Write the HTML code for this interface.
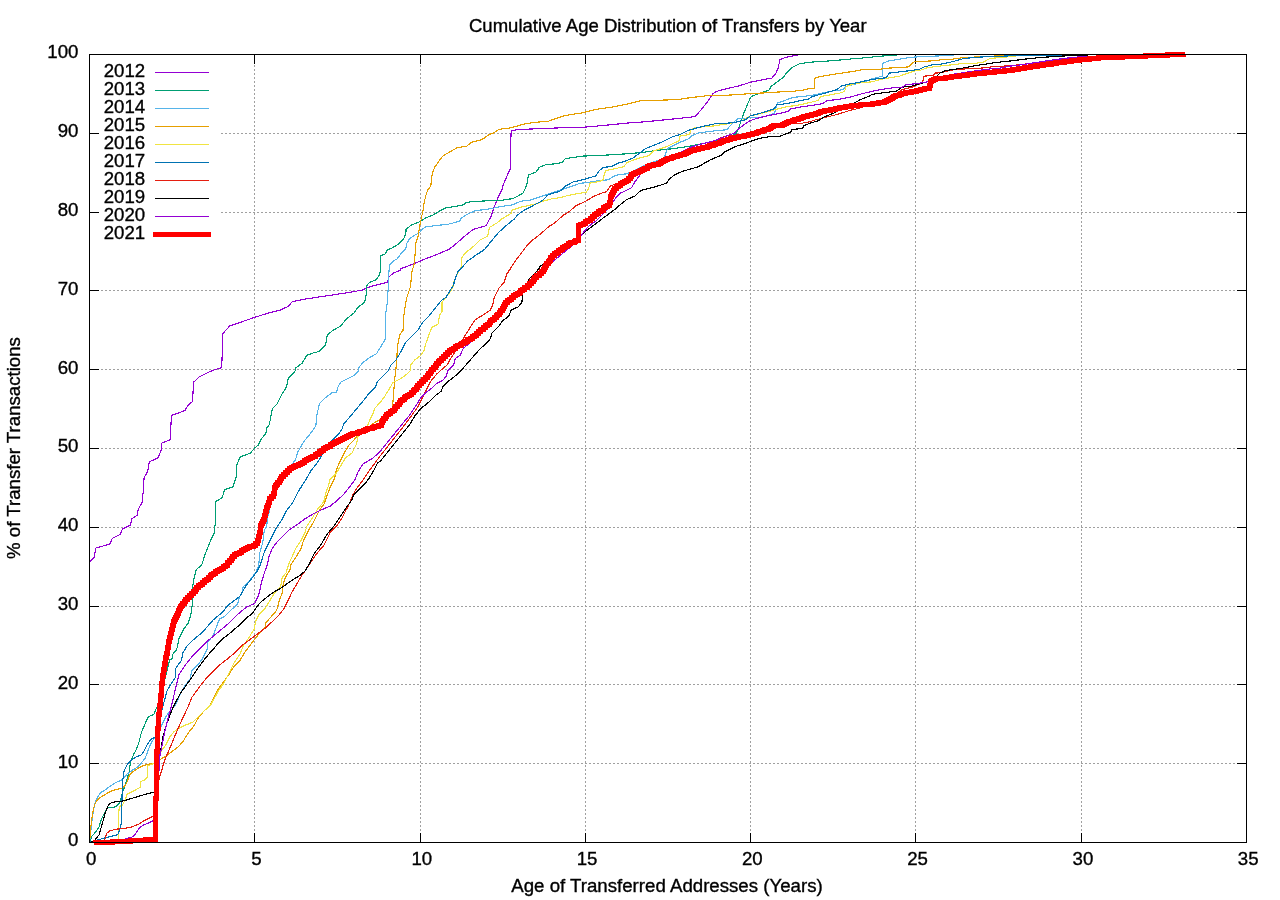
<!DOCTYPE html>
<html><head><meta charset="utf-8"><title>Cumulative Age Distribution of Transfers by Year</title>
<style>html,body{margin:0;padding:0;background:#fff;}svg{display:block;will-change:transform;}text{font-family:"Liberation Sans",sans-serif;font-size:18.67px;fill:#000;stroke:#000;stroke-width:0.35px;}</style></head><body>
<svg width="1280" height="900" viewBox="0 0 1280 900">
<rect x="0" y="0" width="1280" height="900" fill="#fff"/>
<g stroke="#a0a0a0" stroke-width="1" stroke-dasharray="2,2" shape-rendering="crispEdges" fill="none">
<line x1="89.0" y1="763.5" x2="1246.5" y2="763.5"/>
<line x1="89.0" y1="684.5" x2="1246.5" y2="684.5"/>
<line x1="89.0" y1="606.5" x2="1246.5" y2="606.5"/>
<line x1="89.0" y1="527.5" x2="1246.5" y2="527.5"/>
<line x1="89.0" y1="448.5" x2="1246.5" y2="448.5"/>
<line x1="89.0" y1="369.5" x2="1246.5" y2="369.5"/>
<line x1="89.0" y1="290.5" x2="1246.5" y2="290.5"/>
<line x1="89.0" y1="212.5" x2="1246.5" y2="212.5"/>
<line x1="89.0" y1="133.5" x2="1246.5" y2="133.5"/>
<line x1="254.5" y1="843.0" x2="254.5" y2="54.5"/>
<line x1="420.5" y1="843.0" x2="420.5" y2="54.5"/>
<line x1="585.5" y1="843.0" x2="585.5" y2="54.5"/>
<line x1="750.5" y1="843.0" x2="750.5" y2="54.5"/>
<line x1="915.5" y1="843.0" x2="915.5" y2="54.5"/>
<line x1="1081.5" y1="843.0" x2="1081.5" y2="54.5"/>
</g>
<rect x="99" y="60" width="121" height="185" fill="#fff"/>
<g stroke="#000" stroke-width="1" shape-rendering="crispEdges" fill="none">
<line x1="89.5" y1="842.5" x2="99.0" y2="842.5"/>
<line x1="1246.5" y1="842.5" x2="1237.0" y2="842.5"/>
<line x1="89.5" y1="763.5" x2="99.0" y2="763.5"/>
<line x1="1246.5" y1="763.5" x2="1237.0" y2="763.5"/>
<line x1="89.5" y1="684.5" x2="99.0" y2="684.5"/>
<line x1="1246.5" y1="684.5" x2="1237.0" y2="684.5"/>
<line x1="89.5" y1="606.5" x2="99.0" y2="606.5"/>
<line x1="1246.5" y1="606.5" x2="1237.0" y2="606.5"/>
<line x1="89.5" y1="527.5" x2="99.0" y2="527.5"/>
<line x1="1246.5" y1="527.5" x2="1237.0" y2="527.5"/>
<line x1="89.5" y1="448.5" x2="99.0" y2="448.5"/>
<line x1="1246.5" y1="448.5" x2="1237.0" y2="448.5"/>
<line x1="89.5" y1="369.5" x2="99.0" y2="369.5"/>
<line x1="1246.5" y1="369.5" x2="1237.0" y2="369.5"/>
<line x1="89.5" y1="290.5" x2="99.0" y2="290.5"/>
<line x1="1246.5" y1="290.5" x2="1237.0" y2="290.5"/>
<line x1="89.5" y1="212.5" x2="99.0" y2="212.5"/>
<line x1="1246.5" y1="212.5" x2="1237.0" y2="212.5"/>
<line x1="89.5" y1="133.5" x2="99.0" y2="133.5"/>
<line x1="1246.5" y1="133.5" x2="1237.0" y2="133.5"/>
<line x1="89.5" y1="54.5" x2="99.0" y2="54.5"/>
<line x1="1246.5" y1="54.5" x2="1237.0" y2="54.5"/>
<line x1="89.5" y1="842.5" x2="89.5" y2="833.0"/>
<line x1="89.5" y1="54.5" x2="89.5" y2="64.0"/>
<line x1="254.5" y1="842.5" x2="254.5" y2="833.0"/>
<line x1="254.5" y1="54.5" x2="254.5" y2="64.0"/>
<line x1="420.5" y1="842.5" x2="420.5" y2="833.0"/>
<line x1="420.5" y1="54.5" x2="420.5" y2="64.0"/>
<line x1="585.5" y1="842.5" x2="585.5" y2="833.0"/>
<line x1="585.5" y1="54.5" x2="585.5" y2="64.0"/>
<line x1="750.5" y1="842.5" x2="750.5" y2="833.0"/>
<line x1="750.5" y1="54.5" x2="750.5" y2="64.0"/>
<line x1="915.5" y1="842.5" x2="915.5" y2="833.0"/>
<line x1="915.5" y1="54.5" x2="915.5" y2="64.0"/>
<line x1="1081.5" y1="842.5" x2="1081.5" y2="833.0"/>
<line x1="1081.5" y1="54.5" x2="1081.5" y2="64.0"/>
<line x1="1246.5" y1="842.5" x2="1246.5" y2="833.0"/>
<line x1="1246.5" y1="54.5" x2="1246.5" y2="64.0"/>
</g>
<g fill="none" stroke-width="1.15" shape-rendering="crispEdges" stroke-linejoin="round">
<polyline stroke="#9400D3" points="90.0,561.6 94.4,557.2 95.6,548.1 102.2,546.2 110.0,543.9 112.3,538.4 120.2,534.5 122.5,529.1 130.3,525.2 131.9,518.9 137.3,515.0 138.1,509.5 142.0,502.5 143.1,493.1 144.1,477.5 147.5,472.0 149.4,461.9 158.4,457.5 161.6,448.6 161.6,443.1 169.4,440.0 170.2,439.5 171.4,415.3 178.8,413.0 185.0,410.3 188.1,405.2 192.5,401.6 193.6,382.2 199.1,377.0 208.4,372.3 216.2,369.2 221.7,367.7 222.5,345.0 222.7,333.8 229.7,325.9 239.1,322.8 254.7,317.3 267.2,313.4 279.7,310.3 288.3,306.4 292.2,301.7 303.1,299.4 318.8,297.0 334.4,294.7 350.0,292.3 362.5,290.0 367.2,287.7 375.0,285.3 387.5,282.2 389.1,276.7 393.8,272.8 400.0,270.5 400.3,268.9 412.8,264.2 423.8,259.5 436.2,254.8 448.8,249.4 455.0,244.7 462.8,237.7 470.6,231.4 473.8,229.1 480.0,227.5 486.2,225.6 490.9,216.6 494.1,207.2 497.2,199.4 501.9,190.0 503.4,184.4 508.1,173.4 510.5,168.8 510.5,148.4 511.2,130.5 520.6,129.4 540.9,128.6 561.2,127.8 580.0,127.5 595.6,126.2 611.2,124.7 626.9,123.1 642.5,122.0 658.1,120.5 673.8,118.9 689.4,117.3 695.6,116.2 701.9,108.8 708.1,100.9 712.8,93.9 715.9,91.6 721.4,90.0 740.0,85.6 749.4,82.5 760.3,80.2 772.0,78.1 775.9,73.1 778.3,67.7 779.8,59.8 785.3,57.5 793.1,55.9 799.4,54.7"/>
<polyline stroke="#009E73" points="89.7,841.7 92.0,836.2 95.9,831.6 99.1,826.9 101.4,819.1 103.8,814.4 106.9,808.1 110.0,807.3 113.1,807.3 116.2,806.6 120.2,801.9 122.5,792.5 124.8,786.2 127.2,778.4 129.5,770.6 130.3,762.8 133.4,755.0 136.6,748.8 138.9,742.5 141.2,733.1 144.4,725.3 148.3,716.7 153.8,714.4 156.1,708.9 158.4,705.0 169.7,659.5 172.0,658.8 172.8,654.1 176.7,649.4 179.1,638.4 183.8,629.1 188.4,622.8 190.8,615.0 192.3,604.1 192.3,588.4 193.9,579.1 196.2,569.7 201.7,565.0 205.0,554.7 208.1,546.9 211.2,539.1 214.4,532.8 215.2,523.4 215.6,501.6 222.2,497.7 224.5,489.8 233.1,486.7 236.2,476.6 237.0,464.1 240.2,457.0 250.3,453.1 255.0,447.7 258.1,445.3 261.2,439.1 265.9,433.6 266.7,428.1 269.1,425.0 269.4,424.1 272.5,408.4 277.2,403.8 281.9,394.4 286.6,386.6 288.1,378.8 295.2,370.9 295.9,367.8 302.2,363.1 306.9,355.3 313.1,353.0 319.4,351.4 324.8,345.9 326.4,341.2 327.2,335.0 331.9,331.1 341.2,325.6 345.9,319.4 353.8,313.1 358.4,306.9 364.7,302.2 366.2,294.4 367.0,285.0 369.8,282.2 376.1,279.8 379.2,275.2 380.8,269.7 380.8,255.6 385.5,253.8 387.0,250.2 392.5,247.8 398.8,243.9 403.4,239.2 405.8,233.8 406.1,229.1 411.2,225.2 419.8,221.7 425.3,218.1 433.1,215.0 439.4,211.1 445.6,208.0 455.0,206.4 463.6,204.8 465.9,202.5 473.8,201.4 486.2,200.9 501.9,200.2 512.8,198.6 517.5,196.2 523.0,193.1 524.5,190.0 526.9,184.4 528.4,175.0 536.2,171.9 539.4,167.2 545.6,164.8 555.0,163.8 562.0,162.5 565.2,158.6 573.8,157.5 580.0,156.2 595.6,155.6 611.2,154.8 626.9,153.8 642.5,152.5 658.1,150.2 673.8,148.6 689.4,146.2 705.0,143.1 720.6,139.2 730.0,136.9 736.2,133.8 739.4,125.9 742.5,116.6 745.6,108.8 750.3,97.8 751.9,96.2 759.7,93.1 767.5,90.8 769.1,90.0 771.2,86.4 777.5,81.7 783.8,77.0 786.9,72.3 790.8,68.4 794.7,66.1 799.4,63.8 810.3,62.2 833.8,60.6 849.4,59.1 865.0,57.8 880.6,56.2 888.4,55.6 899.4,54.7"/>
<polyline stroke="#56B4E9" points="89.7,841.7 91.2,826.9 92.8,814.4 94.4,805.0 96.7,798.8 100.6,792.5 103.8,790.9 106.9,788.6 112.3,784.7 116.2,782.3 121.7,780.0 124.8,776.9 127.2,773.8 131.9,770.6 136.6,767.5 139.7,765.2 145.2,758.1 147.5,751.9 150.6,744.1 153.8,738.6 156.1,736.2 161.6,725.3 166.2,715.9 170.2,711.2 175.6,705.0 180.6,693.1 185.3,685.3 190.0,679.1 191.6,671.2 197.8,665.0 202.5,658.8 207.2,649.4 208.0,641.6 213.4,635.3 217.3,624.4 219.7,618.9 224.4,616.6 230.6,610.3 237.7,604.1 239.2,597.8 242.3,591.6 243.1,586.9 249.4,580.6 255.6,572.8 258.8,565.0 259.7,553.1 262.8,542.2 264.4,529.7 266.7,526.6 267.5,517.2 269.1,512.5 271.4,500.0 274.1,493.8 275.6,485.9 281.6,476.6 289.4,468.8 291.7,464.8 295.6,459.4 298.0,451.6 303.4,442.2 309.7,434.4 314.4,428.1 315.9,425.0 317.0,414.7 319.4,403.8 325.6,397.5 331.9,392.8 336.6,392.0 338.1,386.6 341.2,381.9 347.5,378.8 353.8,375.6 358.4,370.9 359.2,367.0 363.1,362.3 369.4,357.7 376.4,353.8 380.3,347.5 384.2,341.2 385.8,338.1 385.8,313.1 387.3,302.2 388.4,285.0 388.6,277.5 389.4,265.0 393.3,261.1 397.2,258.8 401.9,252.5 405.8,248.6 406.6,243.9 409.7,238.4 414.4,235.3 419.1,233.0 422.2,229.1 426.1,226.7 436.2,225.6 448.8,224.1 459.7,221.2 461.2,218.1 467.5,214.2 475.3,210.6 486.2,209.5 494.1,208.0 501.9,206.4 512.8,204.8 517.5,202.5 523.8,200.6 530.0,200.2 580.0,183.4 589.4,182.2 598.8,180.6 608.1,179.8 612.8,176.7 619.1,174.4 626.9,173.9 647.2,164.2 653.4,161.9 661.2,159.5 664.4,157.2 667.5,148.6 673.8,145.5 680.0,142.3 687.8,139.2 692.5,135.3 698.8,133.0 709.7,131.4 720.6,130.3 726.9,129.8 730.0,125.9 734.7,121.2 737.8,118.9 744.1,118.6 750.3,117.3 759.7,117.3 767.5,115.8 774.5,113.4 776.1,107.2 777.7,102.5 780.0,102.2 786.9,99.7 793.1,97.3 802.5,96.6 813.4,95.0 824.4,92.7 832.2,91.1 838.4,90.3 843.1,89.5 846.2,86.4 855.6,84.1 865.0,81.7 872.8,78.6 882.2,76.2 883.0,63.0 890.0,60.6 896.2,59.8 904.1,58.3 911.9,57.2 927.5,56.4 940.0,55.9 940.6,55.3 962.5,54.7"/>
<polyline stroke="#E69F00" points="89.7,840.9 90.5,830.0 92.0,817.5 93.6,808.1 95.2,803.4 98.3,798.8 102.2,796.4 106.9,793.3 111.6,790.9 116.2,789.4 120.9,788.6 124.8,786.2 127.2,781.6 129.5,775.3 133.4,771.4 138.1,768.3 142.8,765.9 147.5,764.4 153.8,763.1 160.0,759.7 166.2,755.8 172.5,751.1 178.8,746.4 183.4,740.9 188.1,733.1 194.4,725.3 197.5,719.1 203.8,711.2 210.0,705.0 216.6,691.6 224.4,680.6 229.1,674.4 233.8,666.6 240.0,660.3 244.7,652.5 249.4,646.2 254.1,640.0 260.3,632.2 265.0,627.5 265.8,622.8 271.2,616.6 276.7,610.3 279.1,600.9 282.2,593.1 283.0,585.3 285.3,577.5 290.0,569.7 290.8,565.0 295.6,557.8 301.1,548.4 303.4,540.6 308.1,531.2 312.8,523.4 315.9,517.2 319.1,510.9 324.5,503.1 327.7,493.8 330.0,487.5 334.7,478.1 336.2,470.3 339.4,462.5 344.1,453.1 348.8,445.3 353.4,440.6 358.1,435.2 361.2,432.8 374.8,422.5 385.0,416.6 392.5,410.0 392.8,403.8 393.6,394.4 394.4,381.9 395.9,369.4 396.7,360.0 397.5,345.9 399.8,335.0 403.0,330.3 403.8,316.2 405.3,305.3 406.9,297.5 410.0,288.1 410.8,285.0 411.2,277.5 412.0,271.2 414.4,263.4 415.2,252.5 415.9,243.1 418.3,235.3 419.8,225.9 421.4,218.1 423.0,210.3 424.5,200.9 426.1,194.7 427.7,190.0 430.8,185.9 432.3,173.4 434.7,167.2 438.6,161.7 442.5,156.2 450.3,151.6 457.3,147.7 466.7,146.1 471.4,142.2 481.6,139.8 486.2,136.7 489.4,134.4 494.1,132.8 498.8,129.4 511.2,127.8 520.6,125.0 526.9,123.4 536.2,122.3 548.8,121.1 555.0,118.8 564.4,115.6 573.8,114.1 580.0,113.3 595.6,109.5 611.2,107.2 626.9,104.1 640.9,100.6 658.1,100.2 676.9,99.7 689.4,97.8 705.0,95.9 720.6,95.5 736.2,94.7 751.9,93.4 767.5,92.8 780.0,91.9 786.9,91.9 802.5,90.3 810.3,88.4 814.5,88.0 815.0,77.8 825.9,75.5 841.6,73.1 857.2,70.8 863.4,69.2 880.6,69.2 883.8,68.4 896.2,67.7 908.8,66.9 911.9,63.8 915.0,61.1 927.5,61.1 938.4,60.6 940.0,59.8 953.1,59.1 962.5,57.7 978.1,56.9 987.5,56.4 998.4,55.9 1009.4,55.6 1032.8,55.0"/>
<polyline stroke="#F0E442" points="89.7,842.2 117.8,840.9 118.3,838.6 118.6,814.4 119.4,806.6 122.5,805.0 125.6,798.8 127.2,794.1 131.9,791.7 136.6,789.4 140.5,787.0 140.9,781.6 144.4,780.0 147.5,776.9 147.8,765.9 153.8,763.6 160.8,751.9 166.2,744.1 170.2,736.2 174.1,731.6 178.8,728.4 185.0,725.3 192.8,722.2 197.5,717.5 203.8,711.2 210.0,705.8 211.1,704.1 218.1,691.6 224.4,682.2 229.1,672.8 233.8,663.4 240.0,654.1 243.1,646.2 249.4,636.9 254.1,629.1 255.6,621.2 258.8,615.0 265.0,608.8 269.7,600.9 274.4,593.1 280.6,586.9 282.2,577.5 286.1,572.8 288.4,565.0 288.6,564.1 291.7,557.8 295.6,548.4 301.1,540.6 305.0,532.8 306.6,526.6 312.8,517.2 317.5,509.4 323.8,501.6 326.1,492.2 328.4,485.9 330.0,479.7 336.2,473.4 340.9,465.6 345.6,457.8 351.9,453.1 356.6,443.8 358.1,435.9 362.8,432.8 365.2,431.2 369.4,420.9 372.5,414.7 374.8,408.4 380.3,402.2 385.0,395.9 389.7,388.1 392.8,382.7 400.6,378.8 406.9,374.1 410.8,370.2 410.8,364.7 414.7,360.0 420.9,355.3 424.1,350.6 425.6,344.4 428.8,335.0 431.9,327.2 438.1,324.1 439.7,314.7 442.0,311.6 442.0,302.2 445.9,297.5 450.6,291.2 453.0,286.6 453.4,282.2 457.3,274.4 461.2,266.6 462.0,257.2 465.9,252.5 473.8,246.2 480.0,240.0 487.8,236.1 489.4,227.5 497.2,222.8 501.9,218.9 511.2,213.4 512.0,210.3 520.6,207.2 530.0,205.2 536.2,203.9 544.1,200.8 551.9,198.8 559.7,197.7 567.5,195.6 575.3,194.1 580.0,193.3 586.2,192.3 588.6,188.4 590.2,183.0 595.6,182.2 602.7,180.6 604.2,174.4 605.8,170.5 614.4,168.9 623.8,166.6 626.9,162.7 634.7,159.5 642.5,157.2 648.8,155.6 653.4,150.9 661.2,148.6 667.5,146.2 673.8,143.1 679.2,140.8 680.0,136.1 689.4,134.5 690.9,129.8 695.6,127.5 705.0,126.7 714.4,125.9 723.8,124.4 733.1,122.8 742.5,120.5 750.3,115.8 758.1,114.2 767.5,111.9 775.3,109.5 780.0,108.4 786.9,106.7 797.8,105.2 808.8,102.8 818.1,100.5 820.5,96.6 833.8,94.2 841.6,92.7 844.7,91.1 846.2,86.4 855.6,83.3 865.0,82.5 872.8,81.7 880.6,79.4 890.0,77.8 899.4,76.2 905.6,73.9 915.0,70.8 921.2,70.0 927.5,67.7 935.3,66.6 940.0,66.1 950.0,65.0 964.1,63.4 975.0,63.4 984.4,61.9 987.5,59.5 990.6,58.4 1000.0,57.5 1007.8,56.9 1018.8,55.6 1040.6,54.8"/>
<polyline stroke="#0072B2" points="89.7,842.2 94.4,840.9 105.3,837.8 111.6,836.2 117.8,834.7 119.7,830.0 121.2,823.8 121.7,806.6 122.5,783.1 123.8,772.2 125.6,767.5 128.0,763.6 131.9,759.7 136.6,756.6 141.2,755.0 144.4,750.3 147.5,744.1 150.6,739.4 155.3,737.0 163.4,704.1 167.3,690.0 171.2,683.8 175.2,677.5 175.9,668.1 181.4,660.3 183.0,652.5 186.9,646.2 193.1,640.0 202.5,632.2 213.4,619.7 222.8,611.9 227.5,605.6 233.8,600.9 240.0,596.2 246.2,585.3 252.5,577.5 257.2,571.2 260.3,565.0 264.4,551.6 269.1,542.2 275.3,529.7 281.6,520.3 286.2,510.9 292.5,503.1 298.8,490.6 305.0,481.2 311.2,470.3 317.5,462.5 322.2,454.7 325.3,448.4 334.7,437.5 339.4,432.8 342.5,428.1 343.3,425.0 343.6,424.1 349.1,417.8 356.9,408.4 364.7,399.1 369.4,392.8 375.6,386.6 377.2,381.9 383.4,375.6 388.1,370.9 391.2,364.7 395.9,360.0 400.6,352.2 405.3,342.8 411.6,336.6 417.8,330.3 422.5,322.5 428.8,316.2 435.0,308.4 441.2,300.6 445.9,297.5 450.6,289.7 453.8,285.0 454.2,281.4 458.1,271.2 462.8,266.6 467.5,261.1 475.3,255.6 484.7,249.4 490.9,241.6 498.8,232.2 506.6,225.2 514.4,218.9 517.5,215.0 523.8,210.3 530.0,207.2 536.2,203.9 540.9,201.6 544.8,198.4 547.2,195.3 553.4,193.0 559.7,191.4 565.9,185.9 573.8,181.6 580.0,180.5 587.8,178.3 595.6,175.9 598.8,171.2 603.4,167.3 611.2,166.6 617.5,163.4 625.3,161.1 633.1,158.0 639.4,153.3 645.6,148.6 653.4,145.5 662.8,141.6 672.2,136.9 680.0,134.5 687.8,130.6 695.6,128.3 705.0,125.9 715.9,123.6 726.9,123.3 736.2,122.0 745.6,119.7 750.3,115.8 759.7,113.4 767.5,111.1 773.8,108.8 776.9,104.8 780.0,104.5 786.9,103.6 797.8,101.2 808.8,98.9 811.9,96.6 821.2,94.2 829.1,91.9 836.9,89.5 841.6,85.9 849.4,84.1 858.8,82.5 868.1,80.2 877.5,78.6 886.1,77.8 889.2,73.1 896.2,72.3 908.8,70.8 919.7,69.2 924.4,66.9 933.8,64.5 940.0,64.2 946.9,63.0 954.7,61.1 964.1,58.4 978.1,57.2 993.8,56.4 1009.4,55.9 1025.0,55.6 1068.8,55.0"/>
<polyline stroke="#E51E10" points="94.4,842.2 104.5,840.9 105.3,837.8 106.9,833.1 110.0,830.8 116.2,829.2 124.1,828.4 131.9,826.9 138.1,824.5 142.8,821.4 147.5,819.1 153.0,816.2 156.1,814.4 157.2,792.5 159.2,778.4 161.6,770.6 163.9,762.8 166.2,756.6 170.2,747.2 174.1,737.8 178.8,726.9 183.4,716.7 188.9,705.0 189.2,704.1 191.6,697.8 199.4,686.9 205.6,679.1 213.4,671.2 219.7,665.0 227.5,658.8 235.3,652.5 243.1,644.7 249.4,640.0 255.6,635.3 265.0,628.3 272.8,621.2 279.1,615.0 283.8,608.8 287.7,600.9 292.3,591.6 297.8,582.2 302.5,574.4 308.0,566.6 309.7,564.1 315.9,554.7 323.8,545.3 330.0,532.8 336.2,526.6 342.5,517.2 348.8,504.7 353.4,493.8 357.3,487.5 364.4,478.1 370.6,468.8 375.3,462.5 380.0,456.2 405.3,424.1 410.0,417.8 417.8,406.9 422.5,397.5 425.6,391.2 430.3,381.9 436.6,374.1 442.8,368.6 447.5,364.7 449.8,360.0 469.1,329.1 475.3,319.7 483.1,315.0 490.2,310.3 492.5,305.6 494.1,297.8 498.8,288.4 504.2,282.2 506.6,274.4 512.8,265.0 515.2,261.1 520.6,254.1 525.3,247.8 530.0,242.3 533.9,239.1 540.9,233.6 548.8,226.6 555.0,222.7 562.8,215.6 569.1,211.7 575.3,206.2 580.0,203.9 586.2,200.9 594.1,196.2 601.9,193.1 606.6,191.6 610.5,186.1 615.9,183.8 626.9,179.8 642.5,168.9 658.1,162.7 680.0,154.1 705.0,145.9 720.6,137.7 728.4,135.3 742.5,135.3 755.0,132.2 780.0,124.7 791.6,123.1 802.5,123.1 810.3,121.6 815.0,120.0 827.5,116.9 836.9,114.5 849.4,110.6 858.8,108.3 874.4,103.6 890.0,97.3 902.5,89.5 911.9,87.2 922.8,82.5 923.6,76.2 933.8,75.5 934.5,73.1 940.0,72.8 946.9,71.2 954.7,69.7 965.6,68.9 981.2,68.1 993.8,66.6 1009.4,65.8 1034.4,63.1 1064.1,59.1 1087.5,56.7"/>
<polyline stroke="#000000" points="90.5,842.2 94.4,840.9 99.1,834.7 102.2,823.8 105.3,812.8 108.4,805.0 111.6,802.7 116.2,801.6 122.5,801.1 131.9,798.4 139.7,795.9 147.5,793.8 153.8,792.2 157.2,791.7 158.4,767.5 160.8,750.3 163.1,736.2 166.2,725.3 170.2,714.4 174.1,705.0 180.6,693.1 188.4,682.2 194.7,672.8 202.5,661.9 208.8,654.1 215.8,646.2 221.2,640.0 229.1,633.8 238.4,625.9 246.2,618.1 252.5,613.4 256.4,607.2 260.3,602.5 268.1,596.2 274.4,591.6 280.6,588.4 286.9,583.8 293.9,579.1 299.4,575.9 304.8,571.2 308.8,565.0 314.4,553.1 320.6,545.3 326.9,534.4 334.7,525.0 340.9,515.6 347.2,506.2 351.9,500.0 353.4,495.3 358.1,490.6 364.4,484.4 369.1,478.1 373.8,470.3 377.7,462.5 380.0,461.7 410.0,424.1 414.7,416.2 420.9,408.4 428.8,402.2 435.0,395.9 441.2,391.2 442.8,386.6 447.5,381.9 453.8,377.2 460.0,371.7 479.8,349.1 486.9,342.8 490.8,338.1 491.6,333.4 499.4,325.6 502.5,320.9 508.8,316.2 511.1,310.0 518.1,306.9 522.0,302.2 522.3,294.4 529.1,278.8 533.8,274.1 539.2,268.6 540.0,266.2 549.4,260.0 565.0,249.1 581.4,235.0 586.9,230.3 593.1,225.6 599.4,220.9 605.6,216.2 611.9,211.6 614.2,210.0 619.1,205.6 626.9,199.4 634.7,196.2 639.4,191.6 642.5,190.0 651.9,187.7 662.8,184.5 666.7,183.0 669.1,179.1 675.3,174.4 683.1,171.2 690.9,168.9 698.8,166.6 705.0,162.7 711.2,159.5 720.6,155.6 723.8,152.5 730.0,149.4 736.2,146.2 744.1,143.9 751.9,140.8 759.7,138.4 770.6,136.4 780.0,136.1 790.8,132.2 791.6,129.4 802.5,128.6 804.1,125.5 810.3,123.1 818.1,120.8 824.4,116.9 832.2,113.8 833.8,113.0 854.8,102.8 860.3,99.7 868.1,96.6 872.8,94.2 880.6,93.1 888.4,92.2 896.2,91.1 900.9,88.0 905.6,86.1 911.9,86.1 918.1,84.1 927.5,81.7 936.9,76.2 940.0,73.1 945.3,70.5 951.6,69.7 962.5,68.1 975.0,65.8 987.5,63.8 993.8,62.7 1009.4,61.1 1025.0,59.1 1040.6,57.5 1056.2,56.4 1071.9,55.6 1087.5,55.0"/>
<polyline stroke="#9400D3" points="94.4,842.2 117.8,840.9 124.1,839.4 131.9,837.0 135.0,834.7 138.9,828.4 142.8,825.3 147.5,823.4 153.0,820.9 156.9,819.8 158.1,783.1 160.0,755.0 162.3,744.1 164.7,731.6 167.8,719.1 170.9,708.1 171.7,705.0 175.2,690.0 179.1,674.4 185.3,665.0 191.6,657.2 199.4,649.4 208.8,640.0 218.1,632.2 227.5,624.4 236.9,615.0 246.2,607.2 254.8,603.3 258.8,594.7 261.9,580.6 265.0,571.2 267.3,565.0 269.1,556.2 272.2,548.4 276.9,542.2 283.1,535.9 289.4,529.7 298.8,523.4 305.0,518.8 312.8,514.1 320.6,510.2 330.0,506.2 337.8,500.0 344.1,493.8 350.3,485.9 355.0,479.7 358.1,471.9 362.8,464.1 372.2,458.6 378.4,453.1 380.0,451.6 402.2,424.1 410.0,414.7 416.2,405.3 420.9,397.5 425.6,392.8 431.9,388.1 436.6,383.4 442.8,380.3 446.7,375.6 447.5,370.9 453.8,364.7 455.3,358.4 460.0,355.3 463.4,348.3 479.1,335.0 494.7,320.9 508.8,303.8 524.4,285.8 540.0,272.5 555.6,259.2 565.0,251.4 575.9,242.8 583.8,231.9 588.4,226.4 596.2,220.9 602.5,214.7 606.4,210.0 611.2,204.1 615.9,197.8 620.6,193.1 631.6,187.7 634.7,182.2 639.4,175.9 642.5,172.0 658.1,162.7 676.9,154.1 689.4,147.8 698.8,144.7 711.2,141.6 720.6,138.4 728.4,135.3 734.7,133.0 736.2,130.6 742.5,125.9 750.3,120.5 758.1,118.1 767.5,115.8 775.3,114.2 780.0,113.4 788.4,111.4 790.0,109.1 802.5,106.7 813.4,105.2 822.8,103.6 827.5,100.5 836.9,99.7 849.4,97.3 860.3,94.2 872.8,91.1 880.6,89.5 891.6,88.0 902.5,87.2 905.6,84.8 915.0,83.8 924.4,82.5 927.5,81.7 940.0,78.6 951.6,74.4 978.1,70.5 990.6,68.9 1000.0,68.1 1009.4,66.2 1021.9,64.7 1034.4,62.7 1040.6,61.9 1050.0,60.3 1071.9,57.5 1087.5,56.2"/>
</g>
<polyline fill="none" stroke="#FF0000" stroke-width="5" stroke-linejoin="miter" stroke-linecap="butt" shape-rendering="crispEdges" points="93.9,842.8 95.9,842.8 95.9,842.7 97.9,842.7 97.9,842.6 99.9,842.6 99.9,842.5 101.9,842.5 101.9,842.4 104.0,842.4 104.0,842.3 106.0,842.3 106.0,842.2 108.0,842.2 108.0,842.1 110.0,842.1 110.0,842.0 112.0,842.0 112.0,841.9 114.0,841.9 114.0,841.8 116.0,841.8 116.0,841.7 118.0,841.7 118.0,841.6 120.0,841.6 120.0,841.5 122.1,841.5 122.1,841.4 124.1,841.4 124.1,841.2 126.0,841.2 126.0,841.1 128.0,841.1 128.0,841.0 130.0,841.0 130.0,840.9 132.0,840.9 132.0,840.8 134.0,840.8 134.0,840.6 135.9,840.6 135.9,840.5 137.9,840.5 137.9,840.4 139.9,840.4 139.9,840.2 141.9,840.2 141.9,840.1 143.9,840.1 143.9,840.0 145.8,840.0 145.8,839.9 147.8,839.9 147.8,839.8 149.8,839.8 149.8,839.6 151.8,839.6 151.8,839.5 153.8,839.5 153.8,839.4 155.6,839.4 155.6,839.1 155.6,839.1 155.6,837.0 155.7,837.0 155.7,834.9 155.7,834.9 155.7,832.9 155.7,832.9 155.7,830.8 155.7,830.8 155.7,828.8 155.7,828.8 155.7,826.7 155.7,826.7 155.7,824.7 155.7,824.7 155.7,822.6 155.7,822.6 155.7,820.5 155.8,820.5 155.8,818.5 155.8,818.5 155.8,816.4 155.8,816.4 155.8,814.4 155.8,814.4 155.8,812.4 155.8,812.4 155.8,810.5 155.8,810.5 155.8,808.5 155.9,808.5 155.9,806.6 155.9,806.6 155.9,804.6 155.9,804.6 155.9,802.7 155.9,802.7 155.9,800.7 155.9,800.7 155.9,798.8 156.0,798.8 156.0,796.8 156.0,796.8 156.0,794.8 156.0,794.8 156.0,792.9 156.0,792.9 156.0,790.9 156.0,790.9 156.0,789.0 156.1,789.0 156.1,787.0 156.1,787.0 156.1,785.1 156.1,785.1 156.1,783.1 156.1,783.1 156.1,781.2 156.2,781.2 156.2,779.2 156.2,779.2 156.2,777.3 156.3,777.3 156.3,775.3 156.3,775.3 156.3,773.4 156.4,773.4 156.4,771.4 156.4,771.4 156.4,769.5 156.5,769.5 156.5,767.5 156.5,767.5 156.5,765.5 156.6,765.5 156.6,763.6 156.6,763.6 156.6,761.6 156.7,761.6 156.7,759.7 156.7,759.7 156.7,757.7 156.8,757.7 156.8,755.8 156.8,755.8 156.8,753.8 156.9,753.8 156.9,751.9 157.0,751.9 157.0,749.9 157.0,749.9 157.0,748.0 157.1,748.0 157.1,746.0 157.2,746.0 157.2,744.1 157.3,744.1 157.3,742.1 157.3,742.1 157.3,740.2 157.4,740.2 157.4,738.2 157.5,738.2 157.5,736.2 157.6,736.2 157.6,734.3 157.7,734.3 157.7,732.3 157.7,732.3 157.7,730.4 157.8,730.4 157.8,728.4 158.0,728.4 158.0,726.5 158.1,726.5 158.1,724.5 158.3,724.5 158.3,722.6 158.4,722.6 158.4,720.6 158.6,720.6 158.6,718.7 158.8,718.7 158.8,716.7 158.9,716.7 158.9,714.8 159.1,714.8 159.1,712.8 159.2,712.8 159.2,710.9 159.4,710.9 159.4,708.9 159.5,708.9 159.5,707.0 159.7,707.0 159.7,705.0 160.3,705.0 160.3,704.1 160.5,704.1 160.5,702.0 160.6,702.0 160.6,700.0 160.8,700.0 160.8,698.0 160.9,698.0 160.9,695.9 161.1,695.9 161.1,693.9 161.2,693.9 161.2,691.9 161.4,691.9 161.4,689.8 161.6,689.8 161.6,687.8 161.7,687.8 161.7,685.8 161.9,685.8 161.9,683.8 162.1,683.8 162.1,681.7 162.4,681.7 162.4,679.6 162.7,679.6 162.7,677.5 162.9,677.5 162.9,675.4 163.2,675.4 163.2,673.3 163.4,673.3 163.4,671.2 163.7,671.2 163.7,669.2 164.0,669.2 164.0,667.1 164.2,667.1 164.2,665.0 164.6,665.0 164.6,663.0 165.0,663.0 165.0,661.1 165.4,661.1 165.4,659.1 165.8,659.1 165.8,657.2 166.2,657.2 166.2,655.2 166.6,655.2 166.6,653.3 167.0,653.3 167.0,651.3 167.3,651.3 167.3,649.4 167.7,649.4 167.7,647.4 168.1,647.4 168.1,645.5 168.5,645.5 168.5,643.5 168.9,643.5 168.9,641.6 169.3,641.6 169.3,639.6 169.7,639.6 169.7,637.7 170.1,637.7 170.1,635.7 170.5,635.7 170.5,633.8 171.0,633.8 171.0,631.7 171.6,631.7 171.6,629.7 172.1,629.7 172.1,627.7 172.7,627.7 172.7,625.7 173.3,625.7 173.3,623.7 173.8,623.7 173.8,621.7 174.4,621.7 174.4,619.7 175.3,619.7 175.3,617.5 176.2,617.5 176.2,615.3 177.2,615.3 177.2,613.1 178.1,613.1 178.1,610.9 179.1,610.9 179.1,608.8 180.3,608.8 180.3,606.9 181.6,606.9 181.6,605.0 182.8,605.0 182.8,603.1 184.1,603.1 184.1,601.2 185.3,601.2 185.3,599.4 187.3,599.4 187.3,597.4 189.2,597.4 189.2,595.5 191.2,595.5 191.2,593.5 193.1,593.5 193.1,591.6 195.0,591.6 195.0,589.7 196.9,589.7 196.9,587.8 198.8,587.8 198.8,585.9 200.6,585.9 200.6,584.1 202.5,584.1 202.5,582.2 204.4,582.2 204.4,580.6 206.2,580.6 206.2,579.1 208.1,579.1 208.1,577.5 210.0,577.5 210.0,575.9 211.9,575.9 211.9,574.4 213.8,574.4 213.8,573.1 215.6,573.1 215.6,571.9 217.5,571.9 217.5,570.6 219.4,570.6 219.4,569.4 221.2,569.4 221.2,568.1 223.6,568.1 223.6,566.6 225.9,566.6 225.9,565.0 227.7,565.0 227.7,562.9 229.4,562.9 229.4,560.9 231.2,560.9 231.2,558.8 232.9,558.8 232.9,556.8 234.7,556.8 234.7,554.7 236.9,554.7 236.9,553.4 239.1,553.4 239.1,552.2 241.2,552.2 241.2,550.9 243.4,550.9 243.4,549.7 245.6,549.7 245.6,548.4 247.6,548.4 247.6,547.7 249.5,547.7 249.5,546.9 251.5,546.9 251.5,546.1 253.4,546.1 253.4,545.3 255.4,545.3 255.4,543.0 257.3,543.0 257.3,540.6 258.1,540.6 258.1,538.5 258.9,538.5 258.9,536.5 259.7,536.5 259.7,534.4 259.8,534.4 259.8,532.5 260.0,532.5 260.0,530.6 260.2,530.6 260.2,528.8 260.3,528.8 260.3,526.9 260.5,526.9 260.5,525.0 261.4,525.0 261.4,523.0 262.4,523.0 262.4,521.1 263.4,521.1 263.4,519.1 264.4,519.1 264.4,517.2 264.8,517.2 264.8,515.3 265.3,515.3 265.3,513.4 265.8,513.4 265.8,511.6 266.2,511.6 266.2,509.7 266.7,509.7 266.7,507.8 267.3,507.8 267.3,505.9 268.0,505.9 268.0,504.1 268.6,504.1 268.6,502.2 269.2,502.2 269.2,500.3 269.8,500.3 269.8,498.4 271.8,498.4 271.8,496.1 273.8,496.1 273.8,493.8 274.1,493.8 274.1,491.8 274.5,491.8 274.5,489.8 274.9,489.8 274.9,487.9 275.3,487.9 275.3,485.9 276.6,485.9 276.6,484.1 277.8,484.1 277.8,482.2 279.1,482.2 279.1,480.3 280.3,480.3 280.3,478.4 281.6,478.4 281.6,476.6 283.5,476.6 283.5,474.6 285.5,474.6 285.5,472.7 287.4,472.7 287.4,470.7 289.4,470.7 289.4,468.8 291.6,468.8 291.6,467.7 293.8,467.7 293.8,466.6 295.9,466.6 295.9,465.5 298.1,465.5 298.1,464.4 300.3,464.4 300.3,463.3 302.4,463.3 302.4,462.1 304.5,462.1 304.5,460.9 306.6,460.9 306.6,459.8 308.6,459.8 308.6,458.6 310.7,458.6 310.7,457.4 312.8,457.4 312.8,456.2 315.0,456.2 315.0,454.7 317.2,454.7 317.2,453.1 319.4,453.1 319.4,451.6 321.6,451.6 321.6,450.0 323.8,450.0 323.8,448.4 325.8,448.4 325.8,447.3 327.9,447.3 327.9,446.1 330.0,446.1 330.0,444.9 332.1,444.9 332.1,443.8 334.2,443.8 334.2,442.6 336.2,442.6 336.2,441.4 338.3,441.4 338.3,440.4 340.4,440.4 340.4,439.3 342.5,439.3 342.5,438.3 344.6,438.3 344.6,437.2 346.7,437.2 346.7,436.2 348.8,436.2 348.8,435.2 350.8,435.2 350.8,434.5 352.9,434.5 352.9,433.9 355.0,433.9 355.0,433.2 357.1,433.2 357.1,432.6 359.2,432.6 359.2,431.9 361.2,431.9 361.2,431.2 363.4,431.2 363.4,430.5 365.6,430.5 365.6,429.7 367.8,429.7 367.8,428.9 370.0,428.9 370.0,428.1 372.2,428.1 372.2,427.3 374.1,427.3 374.1,426.8 376.1,426.8 376.1,426.2 378.0,426.2 378.0,425.6 380.0,425.6 380.0,425.0 381.2,425.0 381.2,422.8 382.5,422.8 382.5,420.6 383.8,420.6 383.8,418.4 385.0,418.4 385.0,416.2 386.9,416.2 386.9,414.7 388.8,414.7 388.8,413.1 390.6,413.1 390.6,411.6 392.5,411.6 392.5,410.0 394.4,410.0 394.4,408.4 395.9,408.4 395.9,406.6 397.5,406.6 397.5,404.7 399.1,404.7 399.1,402.8 400.6,402.8 400.6,400.9 402.2,400.9 402.2,399.1 404.1,399.1 404.1,397.8 405.9,397.8 405.9,396.6 407.8,396.6 407.8,395.3 409.7,395.3 409.7,394.1 411.6,394.1 411.6,392.8 413.1,392.8 413.1,390.9 414.7,390.9 414.7,389.1 416.2,389.1 416.2,387.2 417.8,387.2 417.8,385.3 419.4,385.3 419.4,383.4 421.5,383.4 421.5,381.4 423.5,381.4 423.5,379.3 425.6,379.3 425.6,377.2 427.2,377.2 427.2,375.2 428.8,375.2 428.8,373.3 430.3,373.3 430.3,371.3 431.9,371.3 431.9,369.4 433.4,369.4 433.4,367.5 435.0,367.5 435.0,365.6 436.6,365.6 436.6,363.8 438.1,363.8 438.1,361.9 439.7,361.9 439.7,360.0 441.6,360.0 441.6,358.0 443.6,358.0 443.6,356.1 445.5,356.1 445.5,354.1 447.5,354.1 447.5,352.2 449.5,352.2 449.5,350.8 451.4,350.8 451.4,349.5 453.4,349.5 453.4,348.1 455.3,348.1 455.3,346.7 457.7,346.7 457.7,345.5 460.0,345.5 460.0,344.4 461.7,344.4 461.7,343.6 463.4,343.6 463.4,342.8 465.6,342.8 465.6,341.2 467.8,341.2 467.8,339.7 470.0,339.7 470.0,338.1 472.2,338.1 472.2,336.6 474.4,336.6 474.4,335.0 476.6,335.0 476.6,333.1 478.8,333.1 478.8,331.2 480.9,331.2 480.9,329.4 483.1,329.4 483.1,327.5 485.3,327.5 485.3,325.6 487.2,325.6 487.2,324.1 489.1,324.1 489.1,322.5 490.9,322.5 490.9,320.9 492.8,320.9 492.8,319.4 494.7,319.4 494.7,317.8 496.2,317.8 496.2,315.9 497.8,315.9 497.8,314.1 499.4,314.1 499.4,312.2 500.9,312.2 500.9,310.3 502.5,310.3 502.5,308.4 503.5,308.4 503.5,306.4 504.6,306.4 504.6,304.3 505.6,304.3 505.6,302.2 507.6,302.2 507.6,300.6 509.5,300.6 509.5,299.1 511.5,299.1 511.5,297.5 513.4,297.5 513.4,295.9 515.3,295.9 515.3,294.7 517.2,294.7 517.2,293.4 519.1,293.4 519.1,292.2 520.9,292.2 520.9,290.9 522.8,290.9 522.8,289.7 524.9,289.7 524.9,287.6 527.0,287.6 527.0,285.5 529.1,285.5 529.1,283.4 531.0,283.4 531.0,281.5 533.0,281.5 533.0,279.5 534.9,279.5 534.9,277.6 536.9,277.6 536.9,275.6 539.0,275.6 539.0,273.5 541.0,273.5 541.0,271.5 543.1,271.5 543.1,269.4 544.4,269.4 544.4,267.5 545.6,267.5 545.6,265.6 546.9,265.6 546.9,263.8 548.1,263.8 548.1,261.9 549.4,261.9 549.4,260.0 550.9,260.0 550.9,257.7 552.5,257.7 552.5,255.3 554.5,255.3 554.5,253.8 556.4,253.8 556.4,252.2 558.4,252.2 558.4,250.6 560.3,250.6 560.3,249.1 562.3,249.1 562.3,247.7 564.2,247.7 564.2,246.3 566.2,246.3 566.2,245.0 568.1,245.0 568.1,243.6 570.1,243.6 570.1,242.8 572.0,242.8 572.0,242.0 574.0,242.0 574.0,241.2 575.9,241.2 575.9,240.5 578.3,240.5 578.3,238.1 578.3,238.1 578.3,236.0 578.3,236.0 578.3,234.0 578.3,234.0 578.3,231.9 578.3,231.9 578.3,229.8 578.3,229.8 578.3,227.7 578.3,227.7 578.3,225.6 580.1,225.6 580.1,224.8 581.9,224.8 581.9,224.1 583.8,224.1 583.8,223.3 585.8,223.3 585.8,221.7 587.9,221.7 587.9,220.2 590.0,220.2 590.0,218.6 592.1,218.6 592.1,216.8 594.2,216.8 594.2,214.9 596.2,214.9 596.2,213.1 598.6,213.1 598.6,211.6 600.9,211.6 600.9,210.0 603.4,210.0 603.4,207.2 605.5,207.2 605.5,206.1 607.6,206.1 607.6,205.1 609.7,205.1 609.7,204.1 609.9,204.1 609.9,202.1 610.1,202.1 610.1,200.2 610.3,200.2 610.3,198.2 610.5,198.2 610.5,196.2 611.4,196.2 611.4,194.3 612.4,194.3 612.4,192.3 613.4,192.3 613.4,190.4 614.4,190.4 614.4,188.4 616.5,188.4 616.5,186.9 618.5,186.9 618.5,185.3 620.6,185.3 620.6,183.8 622.7,183.8 622.7,182.7 624.8,182.7 624.8,181.7 626.9,181.7 626.9,180.6 628.4,180.6 628.4,178.5 630.0,178.5 630.0,176.5 631.6,176.5 631.6,174.4 633.8,174.4 633.8,173.4 635.9,173.4 635.9,172.5 638.1,172.5 638.1,171.6 640.3,171.6 640.3,170.6 642.5,170.6 642.5,169.7 644.8,169.7 644.8,168.1 647.2,168.1 647.2,166.6 649.4,166.6 649.4,165.9 651.6,165.9 651.6,165.3 653.8,165.3 653.8,164.7 655.9,164.7 655.9,164.1 658.1,164.1 658.1,163.4 660.0,163.4 660.0,162.5 661.9,162.5 661.9,161.6 663.8,161.6 663.8,160.6 665.6,160.6 665.6,159.7 667.5,159.7 667.5,158.8 669.6,158.8 669.6,158.1 671.7,158.1 671.7,157.4 673.8,157.4 673.8,156.8 675.8,156.8 675.8,156.1 677.9,156.1 677.9,155.5 680.0,155.5 680.0,154.8 682.1,154.8 682.1,154.1 684.2,154.1 684.2,153.3 686.2,153.3 686.2,152.5 688.3,152.5 688.3,151.7 690.4,151.7 690.4,150.9 692.5,150.9 692.5,150.2 694.6,150.2 694.6,149.6 696.7,149.6 696.7,149.1 698.8,149.1 698.8,148.6 700.8,148.6 700.8,148.1 702.9,148.1 702.9,147.6 705.0,147.6 705.0,147.0 707.1,147.0 707.1,146.4 709.2,146.4 709.2,145.7 711.2,145.7 711.2,145.1 713.3,145.1 713.3,144.4 715.4,144.4 715.4,143.8 717.5,143.8 717.5,143.1 719.6,143.1 719.6,142.3 721.7,142.3 721.7,141.6 723.8,141.6 723.8,140.8 725.8,140.8 725.8,140.0 727.9,140.0 727.9,139.2 730.0,139.2 730.0,138.4 732.1,138.4 732.1,138.0 734.2,138.0 734.2,137.7 736.2,137.7 736.2,137.3 738.3,137.3 738.3,136.9 740.4,136.9 740.4,136.5 742.5,136.5 742.5,136.1 744.6,136.1 744.6,135.6 746.7,135.6 746.7,135.1 748.8,135.1 748.8,134.5 750.8,134.5 750.8,134.0 752.9,134.0 752.9,133.5 755.0,133.5 755.0,133.0 756.9,133.0 756.9,132.3 758.8,132.3 758.8,131.7 760.6,131.7 760.6,131.1 762.5,131.1 762.5,130.5 764.4,130.5 764.4,129.8 766.2,129.8 766.2,129.1 768.1,129.1 768.1,128.3 770.0,128.3 770.0,127.5 771.9,127.5 771.9,126.7 773.8,126.7 773.8,125.9 775.8,125.9 775.8,125.7 777.9,125.7 777.9,125.4 780.0,125.4 780.0,125.2 782.3,125.2 782.3,124.2 784.6,124.2 784.6,123.3 786.9,123.3 786.9,122.3 788.8,122.3 788.8,121.7 790.6,121.7 790.6,121.1 792.5,121.1 792.5,120.5 794.4,120.5 794.4,119.8 796.2,119.8 796.2,119.2 798.1,119.2 798.1,118.6 800.0,118.6 800.0,118.0 801.9,118.0 801.9,117.3 803.8,117.3 803.8,116.7 805.6,116.7 805.6,116.1 807.5,116.1 807.5,115.6 809.4,115.6 809.4,115.2 811.2,115.2 811.2,114.7 813.1,114.7 813.1,114.2 815.0,114.2 815.0,113.8 816.9,113.8 816.9,113.1 818.8,113.1 818.8,112.5 820.6,112.5 820.6,111.9 822.5,111.9 822.5,111.2 824.4,111.2 824.4,110.6 826.2,110.6 826.2,110.3 828.1,110.3 828.1,110.0 830.0,110.0 830.0,109.7 831.9,109.7 831.9,109.4 833.8,109.4 833.8,109.1 835.6,109.1 835.6,108.7 837.5,108.7 837.5,108.3 839.4,108.3 839.4,107.9 841.2,107.9 841.2,107.6 843.1,107.6 843.1,107.2 845.3,107.2 845.3,106.8 847.5,106.8 847.5,106.4 849.7,106.4 849.7,106.0 851.9,106.0 851.9,105.6 854.1,105.6 854.1,105.2 856.2,105.2 856.2,105.1 858.4,105.1 858.4,105.0 860.6,105.0 860.6,104.9 862.8,104.9 862.8,104.8 865.0,104.8 865.0,104.7 866.9,104.7 866.9,104.5 868.8,104.5 868.8,104.2 870.6,104.2 870.6,104.0 872.5,104.0 872.5,103.8 874.4,103.8 874.4,103.6 876.3,103.6 876.3,103.2 878.3,103.2 878.3,102.8 880.2,102.8 880.2,102.4 882.2,102.4 882.2,102.0 884.1,102.0 884.1,101.1 886.1,101.1 886.1,100.1 888.0,100.1 888.0,99.1 890.0,99.1 890.0,98.1 892.0,98.1 892.0,97.3 893.9,97.3 893.9,96.6 895.9,96.6 895.9,95.8 897.8,95.8 897.8,95.0 899.8,95.0 899.8,94.4 901.7,94.4 901.7,93.8 903.7,93.8 903.7,93.2 905.6,93.2 905.6,92.7 907.5,92.7 907.5,92.3 909.4,92.3 909.4,92.0 911.2,92.0 911.2,91.7 913.1,91.7 913.1,91.4 915.0,91.4 915.0,91.1 916.9,91.1 916.9,90.6 918.8,90.6 918.8,90.2 920.6,90.2 920.6,89.7 922.5,89.7 922.5,89.2 924.4,89.2 924.4,88.8 926.7,88.8 926.7,88.0 929.1,88.0 929.1,87.2 929.6,87.2 929.6,85.4 930.2,85.4 930.2,83.7 930.8,83.7 930.8,81.9 931.4,81.9 931.4,80.2 933.4,80.2 933.4,79.4 935.3,79.4 935.3,78.6 937.7,78.6 937.7,78.6 940.0,78.6 940.0,78.6 941.8,78.6 941.8,78.3 943.7,78.3 943.7,78.0 945.5,78.0 945.5,77.6 947.3,77.6 947.3,77.3 949.2,77.3 949.2,77.0 951.0,77.0 951.0,76.7 953.0,76.7 953.0,76.5 955.0,76.5 955.0,76.2 957.0,76.2 957.0,76.0 959.0,76.0 959.0,75.8 961.0,75.8 961.0,75.5 963.0,75.5 963.0,75.3 965.0,75.3 965.0,75.0 967.0,75.0 967.0,74.8 968.9,74.8 968.9,74.6 970.9,74.6 970.9,74.3 972.8,74.3 972.8,74.1 974.8,74.1 974.8,73.9 976.7,73.9 976.7,73.7 978.6,73.7 978.6,73.5 980.6,73.5 980.6,73.2 982.5,73.2 982.5,73.0 984.4,73.0 984.4,72.8 986.4,72.8 986.4,72.6 988.3,72.6 988.3,72.4 990.2,72.4 990.2,72.2 992.2,72.2 992.2,72.1 994.1,72.1 994.1,71.9 996.1,71.9 996.1,71.7 998.0,71.7 998.0,71.5 1000.0,71.5 1000.0,71.2 1002.0,71.2 1002.0,71.0 1004.0,71.0 1004.0,70.8 1006.0,70.8 1006.0,70.5 1008.0,70.5 1008.0,70.2 1010.0,70.2 1010.0,70.0 1012.0,70.0 1012.0,69.8 1014.0,69.8 1014.0,69.5 1016.0,69.5 1016.0,69.2 1018.0,69.2 1018.0,68.8 1020.0,68.8 1020.0,68.5 1022.0,68.5 1022.0,68.2 1024.0,68.2 1024.0,67.9 1026.0,67.9 1026.0,67.6 1028.0,67.6 1028.0,67.2 1030.0,67.2 1030.0,66.9 1032.0,66.9 1032.0,66.6 1034.0,66.6 1034.0,66.3 1036.0,66.3 1036.0,66.0 1037.9,66.0 1037.9,65.7 1039.8,65.7 1039.8,65.4 1041.6,65.4 1041.6,65.1 1043.5,65.1 1043.5,64.8 1045.4,64.8 1045.4,64.6 1047.2,64.6 1047.2,64.3 1049.1,64.3 1049.1,64.0 1051.0,64.0 1051.0,63.7 1052.9,63.7 1052.9,63.4 1054.8,63.4 1054.8,63.2 1056.6,63.2 1056.6,62.9 1058.5,62.9 1058.5,62.7 1060.4,62.7 1060.4,62.4 1062.2,62.4 1062.2,62.1 1064.1,62.1 1064.1,61.9 1066.0,61.9 1066.0,61.6 1067.9,61.6 1067.9,61.4 1069.8,61.4 1069.8,61.1 1071.6,61.1 1071.6,60.9 1073.5,60.9 1073.5,60.6 1075.4,60.6 1075.4,60.4 1077.2,60.4 1077.2,60.1 1079.1,60.1 1079.1,59.9 1081.0,59.9 1081.0,59.6 1083.1,59.6 1083.1,59.4 1085.2,59.4 1085.2,59.2 1087.4,59.2 1087.4,59.0 1089.5,59.0 1089.5,58.8 1091.6,58.8 1091.6,58.5 1093.8,58.5 1093.8,58.3 1095.9,58.3 1095.9,58.1 1098.0,58.1 1098.0,57.9 1100.0,57.9 1100.0,57.8 1102.0,57.8 1102.0,57.7 1104.0,57.7 1104.0,57.7 1106.0,57.7 1106.0,57.6 1108.0,57.6 1108.0,57.5 1110.0,57.5 1110.0,57.4 1112.0,57.4 1112.0,57.3 1114.0,57.3 1114.0,57.2 1116.0,57.2 1116.0,57.2 1118.0,57.2 1118.0,57.1 1120.0,57.1 1120.0,57.0 1122.0,57.0 1122.0,56.9 1124.0,56.9 1124.0,56.8 1126.0,56.8 1126.0,56.8 1127.9,56.8 1127.9,56.7 1129.9,56.7 1129.9,56.6 1131.9,56.6 1131.9,56.5 1133.9,56.5 1133.9,56.4 1135.9,56.4 1135.9,56.3 1137.9,56.3 1137.9,56.3 1139.9,56.3 1139.9,56.2 1141.8,56.2 1141.8,56.1 1143.8,56.1 1143.8,56.0 1145.8,56.0 1145.8,55.9 1147.8,55.9 1147.8,55.8 1149.8,55.8 1149.8,55.8 1151.8,55.8 1151.8,55.7 1153.8,55.7 1153.8,55.6 1155.7,55.6 1155.7,55.5 1157.7,55.5 1157.7,55.4 1159.6,55.4 1159.6,55.3 1161.6,55.3 1161.6,55.2 1163.5,55.2 1163.5,55.1 1165.5,55.1 1165.5,55.0 1167.4,55.0 1167.4,54.9 1169.4,54.9 1169.4,54.8 1171.4,54.8 1171.4,54.8 1173.3,54.8 1173.3,54.7 1175.2,54.7 1175.2,54.6 1177.2,54.6 1177.2,54.6 1179.2,54.6 1179.2,54.5 1181.1,54.5 1181.1,54.5 1183.0,54.5 1183.0,54.4 1185.0,54.4 1185.0,54.4"/>
<g shape-rendering="crispEdges" fill="none">
<line x1="155" y1="72.5" x2="209" y2="72.5" stroke="#9400D3" stroke-width="1"/>
<line x1="155" y1="90.5" x2="209" y2="90.5" stroke="#009E73" stroke-width="1"/>
<line x1="155" y1="108.5" x2="209" y2="108.5" stroke="#56B4E9" stroke-width="1"/>
<line x1="155" y1="126.5" x2="209" y2="126.5" stroke="#E69F00" stroke-width="1"/>
<line x1="155" y1="144.5" x2="209" y2="144.5" stroke="#F0E442" stroke-width="1"/>
<line x1="155" y1="162.5" x2="209" y2="162.5" stroke="#0072B2" stroke-width="1"/>
<line x1="155" y1="180.5" x2="209" y2="180.5" stroke="#E51E10" stroke-width="1"/>
<line x1="155" y1="198.5" x2="209" y2="198.5" stroke="#000000" stroke-width="1"/>
<line x1="155" y1="216.5" x2="209" y2="216.5" stroke="#9400D3" stroke-width="1"/>
<rect x="153" y="232" width="58" height="5" fill="#FF0000" stroke="none"/>
</g>
<text x="145.2" y="76.5" text-anchor="end">2012</text>
<text x="145.2" y="94.5" text-anchor="end">2013</text>
<text x="145.2" y="112.5" text-anchor="end">2014</text>
<text x="145.2" y="130.5" text-anchor="end">2015</text>
<text x="145.2" y="148.5" text-anchor="end">2016</text>
<text x="145.2" y="166.5" text-anchor="end">2017</text>
<text x="145.2" y="184.5" text-anchor="end">2018</text>
<text x="145.2" y="202.5" text-anchor="end">2019</text>
<text x="145.2" y="220.5" text-anchor="end">2020</text>
<text x="145.2" y="238.5" text-anchor="end">2021</text>
<rect x="89.5" y="54.5" width="1157.0" height="788.0" stroke="#000" stroke-width="1" shape-rendering="crispEdges" fill="none"/>
<text x="78.5" y="846.3" text-anchor="end">0</text>
<text x="78.5" y="767.5" text-anchor="end">10</text>
<text x="78.5" y="688.7" text-anchor="end">20</text>
<text x="78.5" y="609.9" text-anchor="end">30</text>
<text x="78.5" y="531.1" text-anchor="end">40</text>
<text x="78.5" y="452.3" text-anchor="end">50</text>
<text x="78.5" y="373.5" text-anchor="end">60</text>
<text x="78.5" y="294.7" text-anchor="end">70</text>
<text x="78.5" y="215.9" text-anchor="end">80</text>
<text x="78.5" y="137.1" text-anchor="end">90</text>
<text x="78.5" y="58.3" text-anchor="end">100</text>
<text x="91.2" y="864.6" text-anchor="middle">0</text>
<text x="256.5" y="864.6" text-anchor="middle">5</text>
<text x="421.8" y="864.6" text-anchor="middle">10</text>
<text x="587.1" y="864.6" text-anchor="middle">15</text>
<text x="752.3" y="864.6" text-anchor="middle">20</text>
<text x="917.6" y="864.6" text-anchor="middle">25</text>
<text x="1082.9" y="864.6" text-anchor="middle">30</text>
<text x="1248.2" y="864.6" text-anchor="middle">35</text>
<text x="667.8" y="31.9" style="font-size:18.55px" text-anchor="middle">Cumulative Age Distribution of Transfers by Year</text>
<text x="667" y="892" text-anchor="middle">Age of Transferred Addresses (Years)</text>
<text transform="translate(20,448) rotate(-90)" text-anchor="middle">% of Transfer Transactions</text>
</svg></body></html>
